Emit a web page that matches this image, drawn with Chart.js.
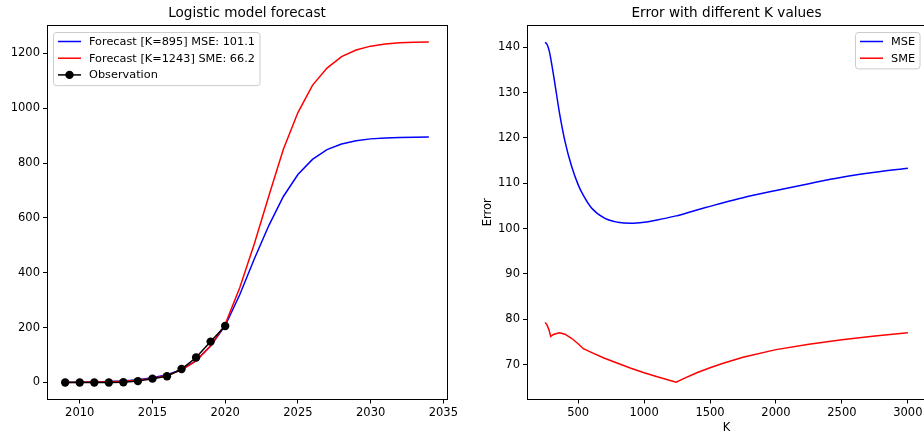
<!DOCTYPE html>
<html>
<head>
<meta charset="utf-8">
<script src="https://cdn.jsdelivr.net/npm/chart.js@4.4.1/dist/chart.umd.min.js"></script>
<style>
  html, body { margin: 0; padding: 0; background: #fff; overflow: hidden; }
  #wrap { position: relative; width: 924px; height: 434px; overflow: hidden; }
  #left { position: absolute; left: 0; top: 0; }
  #right { position: absolute; left: 462px; top: 0; }
</style>
</head>
<body>
<div id="wrap">
  <canvas id="left" width="462" height="434"></canvas>
  <canvas id="right" width="464" height="434"></canvas>
</div>
<script>
// ------------------------------------
// DATA
// ------------------------------------
const years = [2009, 2010, 2011, 2012, 2013, 2014, 2015, 2016, 2017, 2018, 2019, 2020, 2021,
  2022, 2023, 2024, 2025, 2026, 2027, 2028, 2029, 2030, 2031, 2032, 2033, 2034];
const forecastMSE = [0.6, 1.1, 1.9, 3.3, 5.8, 10, 17, 28, 47, 80, 133, 207, 320,
  450, 572, 678, 758, 813, 849, 869, 881, 888, 891, 893, 894, 895];
const forecastSME = [0.4, 0.8, 1.4, 2.6, 4.7, 8.5, 15, 26, 45, 79, 134, 212, 345,
  505, 680, 850, 984, 1083, 1146, 1188, 1212, 1226, 1234, 1238, 1240, 1241];
const obsYears = [2009, 2010, 2011, 2012, 2013, 2014, 2015, 2016, 2017, 2018, 2019, 2020];
const observed = [0, 0, 0, 0, 1, 5, 14, 23, 49, 91, 149, 206];

const kValues = [250, 265, 280, 292, 310, 330, 360, 400, 450, 500, 540, 600, 700, 800, 900,
  1000, 1100, 1243, 1300, 1400, 1500, 1600, 1750, 2000, 2250, 2500, 2750, 3000];
const mseValues = [141.1, 140.6, 139.3, 137.6, 134.5, 130.8, 125.3, 119.3, 113.8, 109.7, 107.3,
  104.6, 102.3, 101.4, 101.15, 101.4, 101.9, 102.8, 103.2, 104.1, 104.9, 105.7, 106.8, 108.4,
  109.9, 111.3, 112.4, 113.3];
const smeValues = [79.3, 78.7, 77.6, 76.2, 76.6, 76.8, 77.0, 76.7, 75.8, 74.6, 73.5, 72.7,
  71.4, 70.3, 69.2, 68.2, 67.3, 66.1, 66.9, 68.2, 69.3, 70.3, 71.6, 73.3, 74.5, 75.5, 76.3, 77.0];

const leftTicksX = [2010, 2015, 2020, 2025, 2030, 2035];
const leftTicksY = [0, 200, 400, 600, 800, 1000, 1200];
const rightTicksX = [500, 1000, 1500, 2000, 2500, 3000];
const rightTicksY = [70, 80, 90, 100, 110, 120, 130, 140];

// ------------------------------------
// COMMON STUFF
// ------------------------------------
const FONT = "DejaVu Sans";
Chart.defaults.font.family = FONT;
Chart.defaults.color = "#000";

const xy = (xs, ys) => xs.map((x, i) => ({ x: x, y: ys[i] }));

// box around plot + matplotlib-like legend
const boxLegend = {
  id: "boxLegend",
  afterDraw(chart, args, opts) {
    const { ctx, chartArea: a } = chart;
    ctx.save();
    // spines
    ctx.strokeStyle = "#000";
    ctx.lineWidth = 1;
    ctx.strokeRect(Math.round(a.left) + 0.5, Math.round(a.top) + 0.5,
      Math.round(a.right - a.left), Math.round(a.bottom - a.top));

    // legend
    const items = chart.data.datasets;
    ctx.font = "11.3px '" + FONT + "'";
    const textW = Math.max(...items.map((d) => ctx.measureText(d.label).width));
    const rowH = 16.7;
    const w = 5 + 23 + 8 + textW + 5;
    const h = items.length * rowH + 3.5;
    const x = opts.align === "right" ? Math.round(a.right - 5.5 - w) : Math.round(a.left + 5.5);
    const y = Math.round(a.top + 6.5);
    const r = 3;
    ctx.beginPath();
    ctx.moveTo(x + r, y + 0.5);
    ctx.arcTo(x + w, y + 0.5, x + w, y + h, r);
    ctx.arcTo(x + w, y + h, x, y + h, r);
    ctx.arcTo(x + 0.5, y + h, x + 0.5, y, r);
    ctx.arcTo(x + 0.5, y + 0.5, x + w, y + 0.5, r);
    ctx.closePath();
    ctx.fillStyle = "rgba(255,255,255,0.8)";
    ctx.fill();
    ctx.strokeStyle = "#cccccc";
    ctx.stroke();

    items.forEach((d, i) => {
      const cy = y + 9.5 + i * rowH;
      ctx.strokeStyle = d.borderColor;
      ctx.lineWidth = 1.5;
      ctx.beginPath();
      ctx.moveTo(x + 5, cy);
      ctx.lineTo(x + 28, cy);
      ctx.stroke();
      if (d.pointRadius > 0) {
        ctx.fillStyle = d.pointBackgroundColor;
        ctx.beginPath();
        ctx.arc(x + 16.5, cy, d.pointRadius, 0, Math.PI * 2);
        ctx.fill();
      }
      ctx.fillStyle = "#000";
      ctx.textBaseline = "middle";
      ctx.fillText(d.label, x + 36, cy + 0.5);
    });
    ctx.restore();
  },
};

function axis(min, max, ticks, width, height, extra) {
  const s = {
    type: "linear",
    min: min,
    max: max,
    afterBuildTicks: (sc) => { sc.ticks = ticks.map((v) => ({ value: v })); },
    afterFit: (sc) => {
      if (width) sc.width = width;
      if (height) sc.height = height;
    },
    ticks: {
      font: { size: 11.5 },
      color: "#000",
      padding: 3,
      maxRotation: 0,
      autoSkip: false,
      callback: (v) => String(v),
    },
    grid: { display: true, drawOnChartArea: false, drawTicks: true, tickLength: 4, color: "#000" },
    border: { display: false },
  };
  return Object.assign(s, extra || {});
}

function titleOpts(text) {
  return {
    display: true,
    fullSize: false, // center over the plot area, like matplotlib
    text: text,
    color: "#000",
    font: { size: 13.6, weight: "normal" },
    padding: { top: 5.5, bottom: 3.2 },
  };
}

// ------------------------------------
// LEFT: LOGISTIC FORECAST
// ------------------------------------
new Chart(document.getElementById("left").getContext("2d"), {
  type: "line",
  data: {
    datasets: [
      {
        label: "Forecast [K=895] MSE: 101.1",
        data: xy(years, forecastMSE),
        borderColor: "#0000ff",
        borderWidth: 1.5,
        pointRadius: 0,
        tension: 0,
        order: 3,
      },
      {
        label: "Forecast [K=1243] SME: 66.2",
        data: xy(years, forecastSME),
        borderColor: "#ff0000",
        borderWidth: 1.5,
        pointRadius: 0,
        tension: 0,
        order: 2,
      },
      {
        label: "Observation",
        data: xy(obsYears, observed),
        borderColor: "#000000",
        backgroundColor: "#000000",
        pointBackgroundColor: "#000000",
        pointBorderWidth: 0,
        borderWidth: 1.5,
        pointRadius: 4.2,
        tension: 0,
        order: 1,
      },
    ],
  },
  options: {
    responsive: false,
    animation: false,
    devicePixelRatio: 1,
    layout: { padding: { left: 0, right: 15, top: 0, bottom: 0 } },
    plugins: {
      legend: { display: false },
      tooltip: { enabled: false },
      title: titleOpts("Logistic model forecast"),
      boxLegend: { align: "left" },
    },
    scales: {
      x: axis(2007.75, 2035.25, leftTicksX, 0, 34.5),
      y: axis(-62, 1303, leftTicksY, 47, 0),
    },
  },
  plugins: [boxLegend],
});

// ------------------------------------
// RIGHT: ERROR vs K
// ------------------------------------
new Chart(document.getElementById("right").getContext("2d"), {
  type: "line",
  data: {
    datasets: [
      {
        label: "MSE",
        data: xy(kValues, mseValues),
        borderColor: "#0000ff",
        borderWidth: 1.5,
        pointRadius: 0,
        cubicInterpolationMode: "monotone",
      },
      {
        label: "SME",
        data: xy(kValues, smeValues),
        borderColor: "#ff0000",
        borderWidth: 1.5,
        pointRadius: 0,
        tension: 0,
      },
    ],
  },
  options: {
    responsive: false,
    animation: false,
    devicePixelRatio: 1,
    layout: { padding: { left: 0, right: 0, top: 0, bottom: 0 } },
    plugins: {
      legend: { display: false },
      tooltip: { enabled: false },
      title: titleOpts("Error with different K values"),
      boxLegend: { align: "right" },
    },
    scales: {
      x: axis(112.5, 3137.5, rightTicksX, 0, 34.5, {
        title: { display: true, text: "K", font: { size: 11.5 }, color: "#000", padding: { top: 0, bottom: -1 } },
      }),
      y: axis(62.3, 144.9, rightTicksY, 65, 0, {
        title: { display: true, text: "Error", font: { size: 11.5 }, color: "#000", padding: { top: 19, bottom: 0 } },
      }),
    },
  },
  plugins: [boxLegend],
});
</script>
</body>
</html>
